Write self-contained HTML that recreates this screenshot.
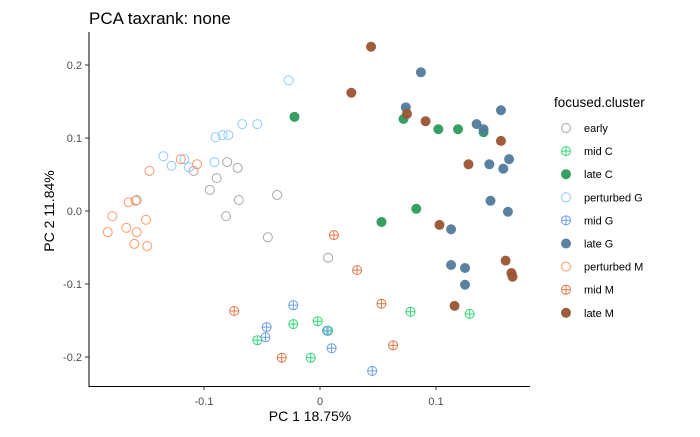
<!DOCTYPE html>
<html><head><meta charset="utf-8"><style>
body{margin:0;background:#fff;font-family:"Liberation Sans",sans-serif}
svg text{font-family:"Liberation Sans",sans-serif}
</style></head><body>
<svg id="chart" width="700" height="432" xmlns="http://www.w3.org/2000/svg">
<text x="89" y="24" font-size="17" fill="#000">PCA taxrank: none</text>
<g id="plot"></g>
<line x1="89" y1="32" x2="89" y2="387" stroke="#000" stroke-width="1"/>
<line x1="89" y1="386.5" x2="530" y2="386.5" stroke="#000" stroke-width="1"/>
<g id="xticks"></g>
<g id="yticks"></g>
<text x="310" y="421" font-size="14" text-anchor="middle">PC 1 18.75%</text>
<text transform="translate(54,211) rotate(-90)" font-size="14" text-anchor="middle">PC 2 11.84%</text>
<g id="legend">
<text x="554" y="107" font-size="13.5">focused.cluster</text>
</g>
</svg>
<script>
const groups = ["early","mid C","late C","perturbed G","mid G","late G","perturbed M","mid M","late M"];
const colors = ["#a8a8a8","#33d675","#2a9a5c","#8ecbff","#6a9fe0","#527a9c","#ff9966","#e0784a","#995533"];
const kinds = ["open","cross","fill","open","cross","fill","open","cross","fill"];
const xTicks = [-0.1, 0, 0.1];
const yTicks = [-0.2,-0.1,0,0.1,0.2];
const xTickLabels = ["-0.1","0","0.1"];
const yTickLabels = ["-0.2","-0.1","0.0","0.1","0.2"];
const earlyX = [-0.080,-0.071,-0.109,-0.089,-0.095,-0.037,-0.070,-0.158,-0.081,-0.045,0.007];
const earlyY = [0.067,0.059,0.055,0.045,0.029,0.022,0.015,0.015,-0.007,-0.036,-0.064];
const midCX = [-0.023,-0.002,-0.054,-0.008,0.007,0.078,0.129];
const midCY = [-0.155,-0.151,-0.177,-0.201,-0.164,-0.138,-0.141];
const lateCX = [-0.022,0.072,0.102,0.119,0.141,0.083,0.053];
const lateCY = [0.129,0.126,0.112,0.112,0.108,0.003,-0.015];
const pertGX = [-0.027,-0.067,-0.054,-0.090,-0.084,-0.079,-0.135,-0.117,-0.128,-0.113,-0.091];
const pertGY = [0.179,0.119,0.119,0.101,0.104,0.104,0.075,0.071,0.062,0.060,0.067];
const midGX = [-0.023,-0.046,-0.047,0.006,0.010,0.045];
const midGY = [-0.129,-0.159,-0.173,-0.164,-0.188,-0.219];
const lateGX = [0.087,0.074,0.156,0.135,0.141,0.163,0.146,0.158,0.147,0.162,0.113,0.113,0.125,0.125];
const lateGY = [0.190,0.142,0.138,0.119,0.112,0.071,0.064,0.058,0.014,-0.001,-0.025,-0.074,-0.078,-0.101];
const pertMX = [-0.120,-0.106,-0.147,-0.165,-0.159,-0.179,-0.150,-0.167,-0.183,-0.158,-0.160,-0.149];
const pertMY = [0.071,0.064,0.055,0.012,0.014,-0.007,-0.012,-0.023,-0.029,-0.029,-0.045,-0.048];
const midMX = [0.012,0.032,-0.074,0.053,0.063,-0.033];
const midMY = [-0.033,-0.081,-0.137,-0.127,-0.184,-0.201];
const lateMX = [0.044,0.027,0.075,0.091,0.156,0.128,0.103,0.160,0.165,0.166,0.116];
const lateMY = [0.225,0.162,0.133,0.123,0.096,0.064,-0.019,-0.068,-0.085,-0.090,-0.130];

const NS="http://www.w3.org/2000/svg";
const xs = v => 320 + v*1160;
const ys = v => 211 - v*730;
function mk(tag, attrs, parent){const e=document.createElementNS(NS,tag);for(const k in attrs)e.setAttribute(k,attrs[k]);parent.appendChild(e);return e;}
function marker(parent,cx,cy,i,r){
  const g=mk("g",{},parent);
  const c=colors[i];
  if(kinds[i]==="fill"){mk("circle",{cx:cx,cy:cy,r:r,fill:c,"fill-opacity":0.95},g);}
  else{
    mk("circle",{cx:cx,cy:cy,r:r-0.5,fill:"none",stroke:c,"stroke-width":1},g);
    if(kinds[i]==="cross"){
      mk("line",{x1:cx-r+0.5,y1:cy,x2:cx+r-0.5,y2:cy,stroke:c,"stroke-width":1},g);
      mk("line",{x1:cx,y1:cy-r+0.5,x2:cx,y2:cy+r-0.5,stroke:c,"stroke-width":1},g);
    }
  }
  return g;
}
const plot=document.getElementById("plot");
const data=[[earlyX,earlyY],[midCX,midCY],[lateCX,lateCY],[pertGX,pertGY],[midGX,midGY],[lateGX,lateGY],[pertMX,pertMY],[midMX,midMY],[lateMX,lateMY]];
data.forEach((d,gi)=>{
  d[0].forEach((x,j)=>{
    const g=marker(plot,xs(x),ys(d[1][j]),gi,5);
    
    
  });
});
const xt=document.getElementById("xticks");
xTicks.forEach((t,i)=>{
  mk("line",{x1:xs(t),y1:386,x2:xs(t),y2:390,stroke:"#333"},xt);
  const tx=mk("text",{x:xs(t),y:405,"font-size":11,fill:"#4d4d4d","text-anchor":"middle"},xt);
  tx.textContent=xTickLabels[i];
  
  
});
const yt=document.getElementById("yticks");
yTicks.forEach((t,i)=>{
  mk("line",{x1:85,y1:ys(t),x2:89,y2:ys(t),stroke:"#333"},yt);
  const tx=mk("text",{x:82,y:ys(t)+4,"font-size":11,fill:"#4d4d4d","text-anchor":"end"},yt);
  tx.textContent=yTickLabels[i];
  
  
});
const lg=document.getElementById("legend");
groups.forEach((name,i)=>{
  const y=128+i*23.1;
  const g=mk("g",{},lg);
  
  
  marker(g,566,y,i,5);
  const t=mk("text",{x:584,y:y+4,"font-size":11,fill:"#000"},g);
  t.textContent=name;
});
</script>
</body></html>
